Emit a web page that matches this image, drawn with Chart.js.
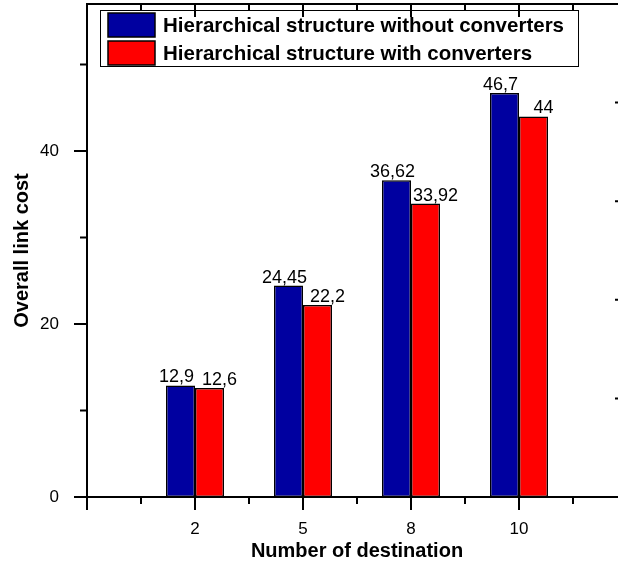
<!DOCTYPE html>
<html>
<head>
<meta charset="utf-8">
<title>Overall link cost</title>
<script src="https://cdn.jsdelivr.net/npm/chart.js@4.4.1/dist/chart.umd.min.js"></script>
<style>
  html, body { margin: 0; padding: 0; background: #fff; overflow: hidden; }
  #chart { display: block; }
</style>
</head>
<body>
<canvas id="chart" width="627" height="579"></canvas>
<script>
const categories = ['2', '5', '8', '10'];
const seriesNames = ['Hierarchical structure without converters', 'Hierarchical structure with converters'];
const withoutConverters = [12.9, 24.45, 36.62, 46.7];
const withConverters = [12.6, 22.2, 33.92, 44];
const yTickValues = [0, 20, 40];
const xTickValues = [0, 1, 2, 3, 4, 5];

const FONT = 'Arial, "Liberation Sans", sans-serif';

// bars sit on a linear axis at 1..n so the axis can keep an empty slot on the left
const toPoints = values => values.map((v, i) => ({ x: i + 1, y: v }));
const fmt = v => String(v).replace('.', ',');

// the tick padding would otherwise shrink the plot area
const noEdgePadding = s => {
  s.paddingTop = s.paddingBottom = s.paddingLeft = s.paddingRight = 0;
};

// value printed above every bar, shifted a little per series
const valueLabels = {
  id: 'valueLabels',
  afterDatasetsDraw(chart) {
    const { ctx } = chart;
    ctx.save();
    ctx.font = '18px ' + FONT;
    ctx.fillStyle = '#000';
    ctx.textAlign = 'center';
    ctx.textBaseline = 'alphabetic';
    chart.data.datasets.forEach((ds, i) => {
      chart.getDatasetMeta(i).data.forEach((bar, j) => {
        ctx.fillText(fmt(ds.data[j].y), bar.x + ds.labelShift, bar.y - 3);
      });
    });
    ctx.restore();
  }
};

// boxed legend inside the plot, top left
const boxLegend = {
  id: 'boxLegend',
  afterDatasetsDraw(chart) {
    const { ctx, chartArea: a } = chart;
    const sets = chart.data.datasets;
    const left = a.left + 13, top = a.top + 6;
    const swW = 47, swH = 24, rowH = 28, textX = left + 63;
    ctx.save();
    ctx.font = 'bold 20.5px ' + FONT;
    const textW = Math.max(...sets.map(d => ctx.measureText(d.label).width));
    const w = textX - left + textW + 14, h = rowH * sets.length;
    ctx.fillStyle = '#fff';
    ctx.fillRect(left, top, w, h);
    ctx.strokeStyle = '#000';
    ctx.lineWidth = 1;
    ctx.strokeRect(left + 0.5, top + 0.5, w, h);
    sets.forEach((d, i) => {
      const sy = top + 3 + i * rowH;
      ctx.fillStyle = d.backgroundColor;
      ctx.fillRect(left + 8, sy, swW, swH);
      ctx.lineWidth = 1.5;
      ctx.strokeRect(left + 8, sy, swW, swH);
      ctx.fillStyle = '#000';
      ctx.textBaseline = 'middle';
      ctx.fillText(d.label, textX, sy + swH / 2 + 1);
    });
    ctx.restore();
  }
};

// closed frame with major/minor ticks: out on left/bottom, in on top/right
const axisFrame = {
  id: 'axisFrame',
  afterDatasetsDraw(chart) {
    const { ctx, chartArea: a, scales } = chart;
    const { x, y, y2 } = scales;
    const seg = (x1, y1, x2, y2_) => { ctx.moveTo(x1, y1); ctx.lineTo(x2, y2_); };
    ctx.save();
    ctx.strokeStyle = '#000';
    ctx.lineWidth = 2;
    ctx.lineCap = 'square';
    ctx.beginPath();
    seg(a.left, a.top, a.left, a.bottom);
    seg(a.left, a.bottom, a.right, a.bottom);
    seg(a.left, a.top, a.right, a.top);
    seg(a.right, a.top, a.right, a.bottom);
    for (let v = y.min; v <= y.max; v += 10) {
      const py = y.getPixelForValue(v);
      seg(a.left - (v % 20 === 0 ? 12 : 6), py, a.left, py);
    }
    for (let v = x.min; v <= x.max; v += 0.5) {
      const px = x.getPixelForValue(v);
      const len = Number.isInteger(v) ? 12 : 6;
      seg(px, a.bottom, px, a.bottom + len);
      seg(px, a.top, px, a.top + len);
    }
    for (let v = y2.min; v <= y2.max; v += 1) {
      const py = y2.getPixelForValue(v);
      seg(a.right - 11, py, a.right, py);
    }
    ctx.stroke();
    ctx.restore();
  }
};

new Chart(document.getElementById('chart'), {
  type: 'bar',
  data: {
    datasets: [
      { label: seriesNames[0], data: toPoints(withoutConverters), backgroundColor: '#0000A0', labelShift: -4 },
      { label: seriesNames[1], data: toPoints(withConverters), backgroundColor: '#FF0000', labelShift: 10 }
    ]
  },
  options: {
    responsive: false,
    animation: false,
    layout: { autoPadding: false, padding: { top: 4, right: 0, bottom: 0, left: 0 } },
    datasets: {
      bar: {
        borderColor: '#000',
        borderWidth: 1.5,
        borderSkipped: false,
        categoryPercentage: 0.537,
        barPercentage: 1
      }
    },
    plugins: { legend: { display: false }, tooltip: { enabled: false } },
    scales: {
      x: {
        type: 'linear',
        position: 'bottom',
        offset: false,
        min: 0,
        max: 5,
        grid: { display: false, drawTicks: false, offset: false },
        border: { display: false },
        afterBuildTicks: s => { s.ticks = xTickValues.map(v => ({ value: v })); },
        afterFit: s => { s.height = 82; noEdgePadding(s); },
        ticks: {
          padding: 22,
          maxRotation: 0,
          color: '#000',
          font: { family: FONT, size: 17 },
          callback: v => categories[v - 1] || ''
        },
        title: {
          display: true,
          text: 'Number of destination',
          color: '#000',
          font: { family: FONT, size: 20, weight: 'bold' },
          padding: { top: 0, bottom: 16 }
        }
      },
      y: {
        min: 0,
        max: 57,
        grid: { display: false, drawTicks: false },
        border: { display: false },
        afterBuildTicks: s => { s.ticks = yTickValues.map(v => ({ value: v })); },
        afterFit: s => { s.width = 87; noEdgePadding(s); },
        ticks: {
          padding: 28,
          color: '#000',
          font: { family: FONT, size: 17 }
        },
        title: {
          display: true,
          text: 'Overall link cost',
          color: '#000',
          font: { family: FONT, size: 20, weight: 'bold' },
          padding: { top: 10, bottom: 0 }
        }
      },
      y2: { display: false, position: 'right', min: 0, max: 5, afterFit: noEdgePadding }
    }
  },
  plugins: [valueLabels, boxLegend, axisFrame]
});
</script>
</body>
</html>
